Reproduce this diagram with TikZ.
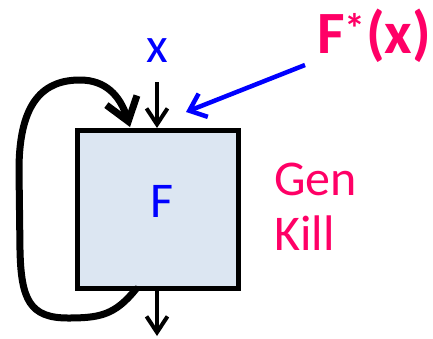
\documentclass[tikz,border=0pt]{standalone}
\usepackage{fontspec}
\setmainfont{Carlito}
\usetikzlibrary{arrows.meta}
\definecolor{boxfill}{HTML}{DCE6F2}
\definecolor{pinkc}{RGB}{255,0,102}
\definecolor{bluec}{RGB}{0,0,255}
\begin{document}
\begin{tikzpicture}[x=1pt,y=-1pt,
  flowarrow/.style={black,line width=4pt,-{Straight Barb[length=16pt,width=21pt]}},
  looparrow/.style={black,line width=7pt,line cap=round,-{Straight Barb[length=22pt,width=32pt]}},
  ptrarrow/.style={bluec,line width=4.5pt,-{Straight Barb[length=15pt,width=25pt]}},
  lbl/.style={inner sep=0pt,anchor=base,font=\fontsize{50}{60}\selectfont}]
\useasboundingbox (0,0) rectangle (433,338);
\node[draw=black,line width=5pt,fill=boxfill,minimum width=161pt,minimum height=158pt,inner sep=0pt] (F) at (157.5,209) {};
\node[lbl,text=bluec] (Flab) at (162,217) {F};
\node[lbl,text=bluec] (xlab) at (157,62) {x};
\coordinate (xs) at (157,82);
\coordinate (xt) at (157,128);
\draw[flowarrow] (xs) -- (xt);
\coordinate (os) at (157,291);
\coordinate (ot) at (157,336);
\draw[flowarrow] (os) -- (ot);
\coordinate (ls) at (136,289);
\coordinate (lt) at (130,127);
\draw[looparrow] (ls) .. controls (115,315) and (100,318) .. (68,318)
  .. controls (30,318) and (21,300) .. (20,250) -- (19,170)
  .. controls (19,100) and (45,80) .. (80,80)
  .. controls (105,80) and (120,95) .. (lt);
\node[inner sep=0pt,anchor=base west,text=pinkc,font=\bfseries\fontsize{60}{72}\selectfont] (Fstar) at (317,53) {F\textsuperscript{*}(x)};
\coordinate (ps) at (305,65);
\coordinate (pt) at (186,112);
\draw[ptrarrow] (ps) -- (pt);
\node[lbl,anchor=base west,text=pinkc] (gen) at (274,195) {Gen};
\node[lbl,anchor=base west,text=pinkc] (kill) at (274,250) {Kill};
\end{tikzpicture}
\end{document}
